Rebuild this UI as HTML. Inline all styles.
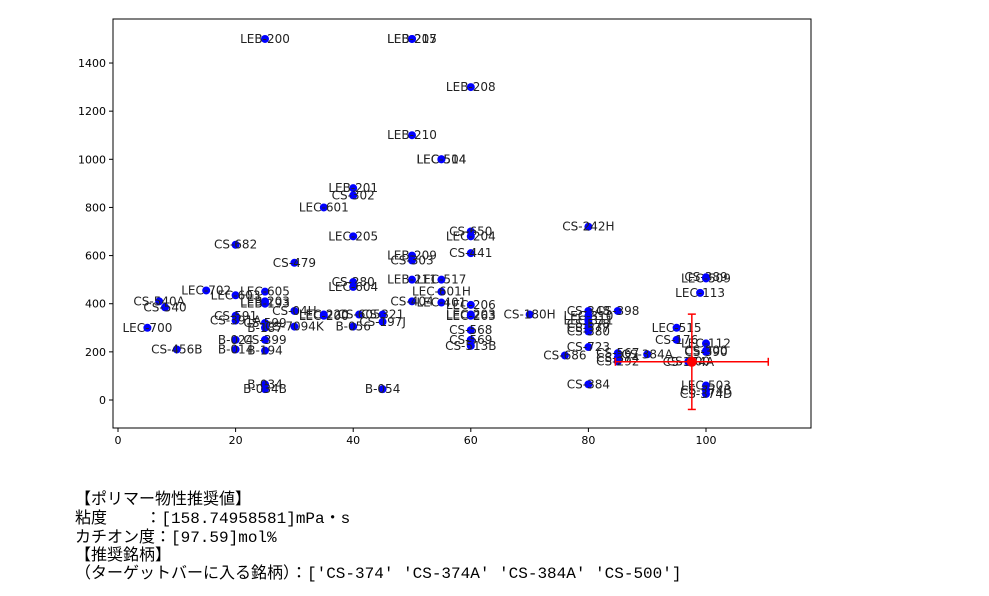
<!DOCTYPE html>
<html><head><meta charset="utf-8"><style>
body{margin:0;background:#fff;width:989px;height:596px;overflow:hidden}
.t{position:absolute;left:75px;font-family:"Liberation Mono","Noto Sans CJK JP",monospace;font-size:16px;color:#000;white-space:pre}
</style></head><body>
<svg id="chart" width="989" height="470" style="position:absolute;left:0;top:0" font-family="DejaVu Sans, Liberation Sans, sans-serif"></svg>
<div class="t" style="top:485px">【ポリマー物性推奨値】</div>
<div class="t" style="top:504px">粘度    ：[158.74958581]mPa・s</div>
<div class="t" style="top:523px">カチオン度：[97.59]mol%</div>
<div class="t" style="top:541px">【推奨銘柄】</div>
<div class="t" style="top:559px">（ターゲットバーに入る銘柄）：['CS-374' 'CS-374A' 'CS-384A' 'CS-500']</div>
<script>
const names=["LEB-200","LEB-207","LEB-215","LEB-208","LEB-210","LEC-504","LEC-514","LEB-201","CS-302","LEC-601","LEC-205","CS-682","CS-242H","CS-650","LEC-204","LEB-209","CS-303","CS-441","CS-479","CS-280","LEC-604","LEB-211","LEC-517","LEC-601H","CS-404","LEC-401","LEC-206","LEC-203","LEC-263","CS-180H","CS-568","CS-569","CS-513B","CS-389","LEC-509","LEC-113","CS-398","CS-348","LEC-310","LEC-311","CS-578","CS-577","CS-380","CS-723","CS-686","CS-567","CS-384A","CS-374","CS-292","LEC-515","CS-176","LEC-112","CS-300","CS-390","CS-500","CS-374A","CS-384","LEC-503","CS-374B","CS-374D","LEC-702","LEC-603","LEC-605","CS-540A","CS-540","LEB-203","LEB-193","CS-591","CS-391A","LEC-700","CS-456B","B-024","B-014","CS-399","B-194","CS-599","B-187","CS-04H","CS-7094K","LEC-220","LEC-200","CS-605","CS-321","B-056","CS-197J","B-034","B-034B","B-054"];
const xs=[25,50,50,60,50,55,55,40,40,35,40,20,80,60,60,50,50,60,30,40,40,50,55,55,50,55,60,60,60,70,60,60,60,100,100,99,85,80,80,80,80,80,80,80,76,85,90,85,85,95,95,100,100,100,97,97,80,100,100,100,15,20,25,7,8,25,25,20,20,5,10,20,20,25,25,25,25,30,30,35,35,41,45,40,45,25,25,45];
const ys=[1500,1500,1500,1300,1100,1000,1000,880,850,800,680,645,720,700,680,600,580,610,570,490,470,500,500,450,410,405,395,355,350,355,290,250,225,510,505,445,370,370,350,330,315,300,285,220,185,195,190,175,160,300,250,235,205,200,160,158,65,60,40,25,455,435,450,410,385,410,400,350,330,300,210,250,210,250,205,320,300,370,305,355,350,355,355,305,325,65,45,45];
const target=[97.59,158.75], xerr=13, yerr=198;
const xticks=[0,20,40,60,80,100], yticks=[0,200,400,600,800,1000,1200,1400];
const svg=document.getElementById('chart'),NS="http://www.w3.org/2000/svg";
const X=v=>118+v*5.88, Y=v=>400-v*0.2407;
function mk(t,a,p){const e=document.createElementNS(NS,t);for(const k in a)e.setAttribute(k,a[k]);(p||svg).appendChild(e);return e;}
const frame=mk('rect',{x:113,y:19,width:698,height:409,fill:'none',stroke:'#000','stroke-width':1});


xticks.forEach(v=>{mk('line',{x1:X(v),x2:X(v),y1:428,y2:432,stroke:'#000'});const t=mk('text',{x:X(v),y:444,'font-size':11,'text-anchor':'middle'});t.textContent=v;

});
yticks.forEach(v=>{mk('line',{x1:109,x2:113,y1:Y(v),y2:Y(v),stroke:'#000'});const t=mk('text',{x:106,y:Y(v)+4,'font-size':11,'text-anchor':'end'});t.textContent=v;

});
names.forEach((n,i)=>{const c=mk('circle',{cx:X(xs[i]),cy:Y(ys[i]),r:4,fill:'#0000ff'});


const t=mk('text',{x:X(xs[i]),y:Y(ys[i])+4,'font-size':12,'text-anchor':'middle',fill:'#222'});t.textContent=n;

});
const g=mk('g',{stroke:'#ff0000','stroke-width':1.5});


const tx=X(target[0]),ty=Y(target[1]);
mk('line',{x1:X(target[0]-xerr),x2:X(target[0]+xerr),y1:ty,y2:ty},g);
mk('line',{x1:tx,x2:tx,y1:Y(target[1]-yerr),y2:Y(target[1]+yerr)},g);
mk('line',{x1:X(target[0]-xerr),x2:X(target[0]-xerr),y1:ty-4,y2:ty+4},g);
mk('line',{x1:X(target[0]+xerr),x2:X(target[0]+xerr),y1:ty-4,y2:ty+4},g);
mk('line',{x1:tx-4,x2:tx+4,y1:Y(target[1]-yerr),y2:Y(target[1]-yerr)},g);
mk('line',{x1:tx-4,x2:tx+4,y1:Y(target[1]+yerr),y2:Y(target[1]+yerr)},g);
const tp=mk('circle',{cx:tx,cy:ty,r:5,fill:'#ff0000'});


</script>
</body></html>
